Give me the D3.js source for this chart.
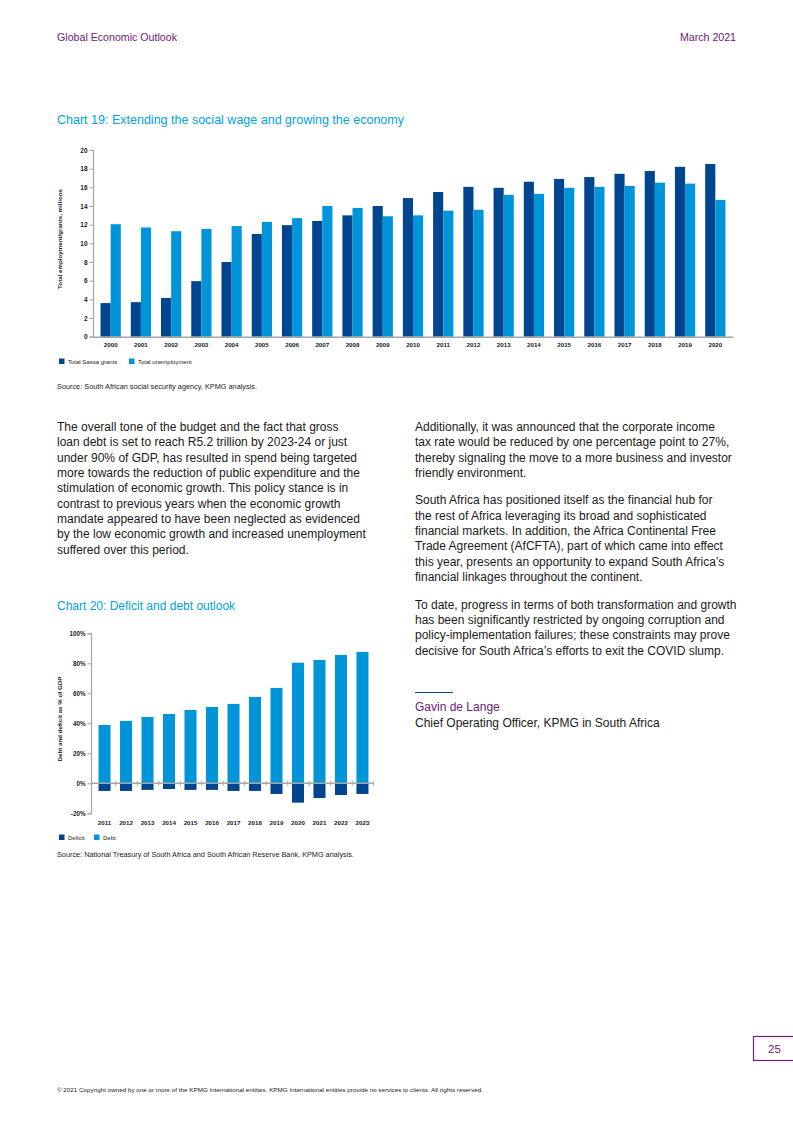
<!DOCTYPE html>
<html><head><meta charset="utf-8">
<script src="https://cdn.jsdelivr.net/npm/d3@7"></script>
<style>
body{margin:0;background:#fff}
svg{display:block}
text{font-family:"Liberation Sans",Arial,sans-serif}
.narrow{font-family:"Liberation Sans Narrow","Arial Narrow","Liberation Sans",sans-serif}
</style></head>
<body>
<svg id="page" width="793" height="1122"></svg>
<script>
// ---------- Data ----------
const years19 = ["2000","2001","2002","2003","2004","2005","2006","2007","2008","2009","2010",
                 "2011","2012","2013","2014","2015","2016","2017","2018","2019","2020"];
const sassaGrants = [3.6,3.7,4.15,5.95,8.0,11.0,11.95,12.4,13.0,14.0,14.85,
                     15.5,16.05,15.95,16.6,16.9,17.1,17.45,17.75,18.2,18.5];
const unemployment = [12.05,11.7,11.3,11.55,11.85,12.3,12.7,14.0,13.8,12.9,13.0,
                      13.5,13.6,15.2,15.3,15.95,16.05,16.15,16.5,16.4,14.65];
const ticks19 = [0,2,4,6,8,10,12,14,16,18,20];

const years20 = ["2011","2012","2013","2014","2015","2016","2017","2018","2019","2020","2021","2022","2023"];
const deficit = [-5.1,-5.1,-4.4,-3.8,-4.4,-4.4,-5.1,-5.1,-7.1,-12.9,-9.8,-7.8,-7.1];
const debt = [38.9,41.6,44.2,46.2,48.9,50.9,52.9,57.6,63.6,80.4,82.2,85.6,87.6];
const ticks20 = [-20,0,20,40,60,80,100];

const para1 = ["The overall tone of the budget and the fact that gross",
"loan debt is set to reach R5.2 trillion by 2023-24 or just",
"under 90% of GDP, has resulted in spend being targeted",
"more towards the reduction of public expenditure and the",
"stimulation of economic growth. This policy stance is in",
"contrast to previous years when the economic growth",
"mandate appeared to have been neglected as evidenced",
"by the low economic growth and increased unemployment",
"suffered over this period."];
const rightParas = [
["Additionally, it was announced that the corporate income",
"tax rate would be reduced by one percentage point to 27%,",
"thereby signaling the move to a more business and investor",
"friendly environment."],
["South Africa has positioned itself as the financial hub for",
"the rest of Africa leveraging its broad and sophisticated",
"financial markets. In addition, the Africa Continental Free",
"Trade Agreement (AfCFTA), part of which came into effect",
"this year, presents an opportunity to expand South Africa’s",
"financial linkages throughout the continent."],
["To date, progress in terms of both transformation and growth",
"has been significantly restricted by ongoing corruption and",
"policy-implementation failures; these constraints may prove",
"decisive for South Africa’s efforts to exit the COVID slump."]];

// ---------- Styles ----------
const DARK = "#00458f", LIGHT = "#0095d9", PURPLE = "#6d2077", AXIS = "#a6a6a6", TXT = "#1a1a1a", TITLE = "#00a3e0";

const svg = d3.select("#page");

// Header
svg.append("text").attr("class","narrow").attr("x",57).attr("y",41).attr("font-size",11.5)
  .attr("fill",PURPLE).attr("textLength",120).attr("lengthAdjust","spacingAndGlyphs").text("Global Economic Outlook");
svg.append("text").attr("class","narrow").attr("x",680).attr("y",41).attr("font-size",11.5)
  .attr("fill",PURPLE).attr("textLength",56).attr("lengthAdjust","spacingAndGlyphs").text("March 2021");

// ---------- Chart 19 ----------
svg.append("text").attr("class","narrow").attr("x",57).attr("y",124).attr("font-size",12.5)
  .attr("fill",TITLE).attr("textLength",347).attr("lengthAdjust","spacingAndGlyphs")
  .text("Chart 19: Extending the social wage and growing the economy");

const x19 = d3.scaleBand().domain(years19).range([93,733]).paddingInner(0.33).paddingOuter(0.25);
const y19 = d3.scaleLinear().domain([0,20]).range([336.7,150]);
const g19 = svg.append("g");
const half19 = x19.bandwidth()/2;
g19.selectAll("rect.s").data(years19).join("rect")
  .attr("x",d=>x19(d)).attr("width",half19)
  .attr("y",(d,i)=>y19(sassaGrants[i])).attr("height",(d,i)=>y19(0)-y19(sassaGrants[i]))
  .attr("fill",DARK);
g19.selectAll("rect.u").data(years19).join("rect")
  .attr("x",d=>x19(d)+half19).attr("width",half19)
  .attr("y",(d,i)=>y19(unemployment[i])).attr("height",(d,i)=>y19(0)-y19(unemployment[i]))
  .attr("fill",LIGHT);

const ya19 = g19.append("g").attr("transform","translate(93,0)")
  .call(d3.axisLeft(y19).tickValues(ticks19).tickSize(3.5).tickPadding(2));
ya19.select(".domain").attr("stroke",AXIS).attr("stroke-width",1.2);
ya19.selectAll(".tick line").attr("stroke",AXIS);
ya19.selectAll(".tick text").attr("font-size",6.5).attr("font-weight","bold").attr("fill",TXT)
  .attr("font-family","Liberation Sans,Arial,sans-serif");

const xa19 = g19.append("g").attr("transform",`translate(0,${y19(0)})`)
  .call(d3.axisBottom(x19).tickSize(0).tickPadding(6));
xa19.select(".domain").attr("stroke",AXIS).attr("stroke-width",1.5);
xa19.selectAll(".tick text").attr("font-size",6.2).attr("font-weight","bold").attr("fill",TXT)
  .attr("font-family","Liberation Sans,Arial,sans-serif");

svg.append("text").attr("transform","translate(62,239) rotate(-90)").attr("text-anchor","middle")
  .attr("font-size",6.2).attr("font-weight","bold").attr("fill",TXT)
  .text("Total employment/grants, millions");

// legend 19
const leg19 = [["Total Sassa grants",DARK,59],["Total unemployment",LIGHT,129]];
leg19.forEach(([t,c,x])=>{
  svg.append("rect").attr("x",x).attr("y",358.5).attr("width",5.5).attr("height",5.5).attr("fill",c);
  svg.append("text").attr("x",x+9).attr("y",364).attr("font-size",6).attr("fill",TXT).text(t);
});
svg.append("text").attr("x",57).attr("y",389).attr("font-size",6.6).attr("fill",TXT)
  .attr("textLength",200).attr("lengthAdjust","spacingAndGlyphs")
  .text("Source: South African social security agency, KPMG analysis.");

// ---------- Body text ----------
function para(lines,x,y){
  const t = svg.append("text").attr("font-size",12).attr("fill",TXT);
  lines.forEach((l,i)=>t.append("tspan").attr("x",x).attr("y",y+i*15.35).text(l));
}
para(para1,57,431);
let ry = 431;
rightParas.forEach(p=>{ para(p,415,ry); ry += p.length*15.35 + 12; });

svg.append("line").attr("x1",415).attr("x2",453).attr("y1",692.5).attr("y2",692.5)
  .attr("stroke",DARK).attr("stroke-width",1);
svg.append("text").attr("x",415).attr("y",711).attr("font-size",12).attr("fill",PURPLE).text("Gavin de Lange");
svg.append("text").attr("x",415).attr("y",727).attr("font-size",12).attr("fill",TXT)
  .text("Chief Operating Officer, KPMG in South Africa");

// ---------- Chart 20 ----------
svg.append("text").attr("x",57).attr("y",610).attr("font-size",12).attr("fill",TITLE)
  .text("Chart 20: Deficit and debt outlook");

const x20 = d3.scaleBand().domain(years20).range([91,376]).paddingInner(0.44).paddingOuter(0.35);
const y20 = d3.scaleLinear().domain([-20,100]).range([813.3,633.3]);
const g20 = svg.append("g");
g20.selectAll("rect.d").data(years20).join("rect")
  .attr("x",d=>x20(d)).attr("width",x20.bandwidth())
  .attr("y",(d,i)=>y20(debt[i])).attr("height",(d,i)=>y20(0)-y20(debt[i])).attr("fill",LIGHT);
g20.selectAll("rect.f").data(years20).join("rect")
  .attr("x",d=>x20(d)).attr("width",x20.bandwidth())
  .attr("y",y20(0)).attr("height",(d,i)=>y20(deficit[i])-y20(0)).attr("fill",DARK);

const ya20 = g20.append("g").attr("transform","translate(91,0)")
  .call(d3.axisLeft(y20).tickValues(ticks20).tickSize(3.5).tickPadding(2).tickFormat(d=>d+"%"));
ya20.select(".domain").attr("stroke",AXIS).attr("stroke-width",1.2);
ya20.selectAll(".tick line").attr("stroke",AXIS);
ya20.selectAll(".tick text").attr("font-size",6.3).attr("font-weight","bold").attr("fill",TXT)
  .attr("font-family","Liberation Sans,Arial,sans-serif");

// zero line with category separators
const step20 = x20.step();
const zeroAxis = d3.axisBottom(d3.scaleLinear().domain([0,years20.length]).range([x20(years20[0]) - step20*0.22, x20(years20[0]) - step20*0.22 + step20*years20.length]))
  .tickValues(d3.range(1,years20.length+1)).tickSize(5).tickFormat("");
const za = g20.append("g").attr("transform",`translate(0,${y20(0)-2.5})`).call(zeroAxis);
za.select(".domain").remove();
za.selectAll(".tick line").attr("stroke",AXIS).attr("stroke-width",1);
g20.append("line").attr("x1",91).attr("x2",x20(years20[0]) - step20*0.22 + step20*years20.length)
  .attr("y1",y20(0)).attr("y2",y20(0)).attr("stroke",AXIS).attr("stroke-width",1.4);

const xa20 = g20.append("g").attr("transform",`translate(0,${y20(-20)})`)
  .call(d3.axisBottom(x20).tickSize(0).tickPadding(7));
xa20.select(".domain").remove();
xa20.selectAll(".tick text").attr("font-size",6.2).attr("font-weight","bold").attr("fill",TXT)
  .attr("font-family","Liberation Sans,Arial,sans-serif");

svg.append("text").attr("transform","translate(62,719) rotate(-90)").attr("text-anchor","middle")
  .attr("font-size",6.2).attr("font-weight","bold").attr("fill",TXT)
  .text("Debt and deficit as % of GDP");

const leg20 = [["Deficit",DARK,59],["Debt",LIGHT,94]];
leg20.forEach(([t,c,x])=>{
  svg.append("rect").attr("x",x).attr("y",834.5).attr("width",5.5).attr("height",5.5).attr("fill",c);
  svg.append("text").attr("x",x+9).attr("y",840).attr("font-size",6).attr("fill",TXT).text(t);
});
svg.append("text").attr("x",57).attr("y",857).attr("font-size",6.8).attr("fill",TXT)
  .attr("textLength",297).attr("lengthAdjust","spacingAndGlyphs")
  .text("Source: National Treasury of South Africa and South African Reserve Bank, KPMG analysis.");

// ---------- Footer ----------
svg.append("rect").attr("x",753.5).attr("y",1036.5).attr("width",45).attr("height",24)
  .attr("fill","none").attr("stroke",PURPLE).attr("stroke-width",1.2);
svg.append("text").attr("class","narrow").attr("x",774.5).attr("y",1053).attr("text-anchor","middle")
  .attr("font-size",11.5).attr("fill",PURPLE).text("25");
svg.append("text").attr("x",57).attr("y",1092).attr("font-size",5.4).attr("fill",TXT)
  .attr("textLength",426).attr("lengthAdjust","spacingAndGlyphs")
  .text("© 2021 Copyright owned by one or more of the KPMG International entities. KPMG International entities provide no services to clients. All rights reserved.");
</script>
</body></html>
